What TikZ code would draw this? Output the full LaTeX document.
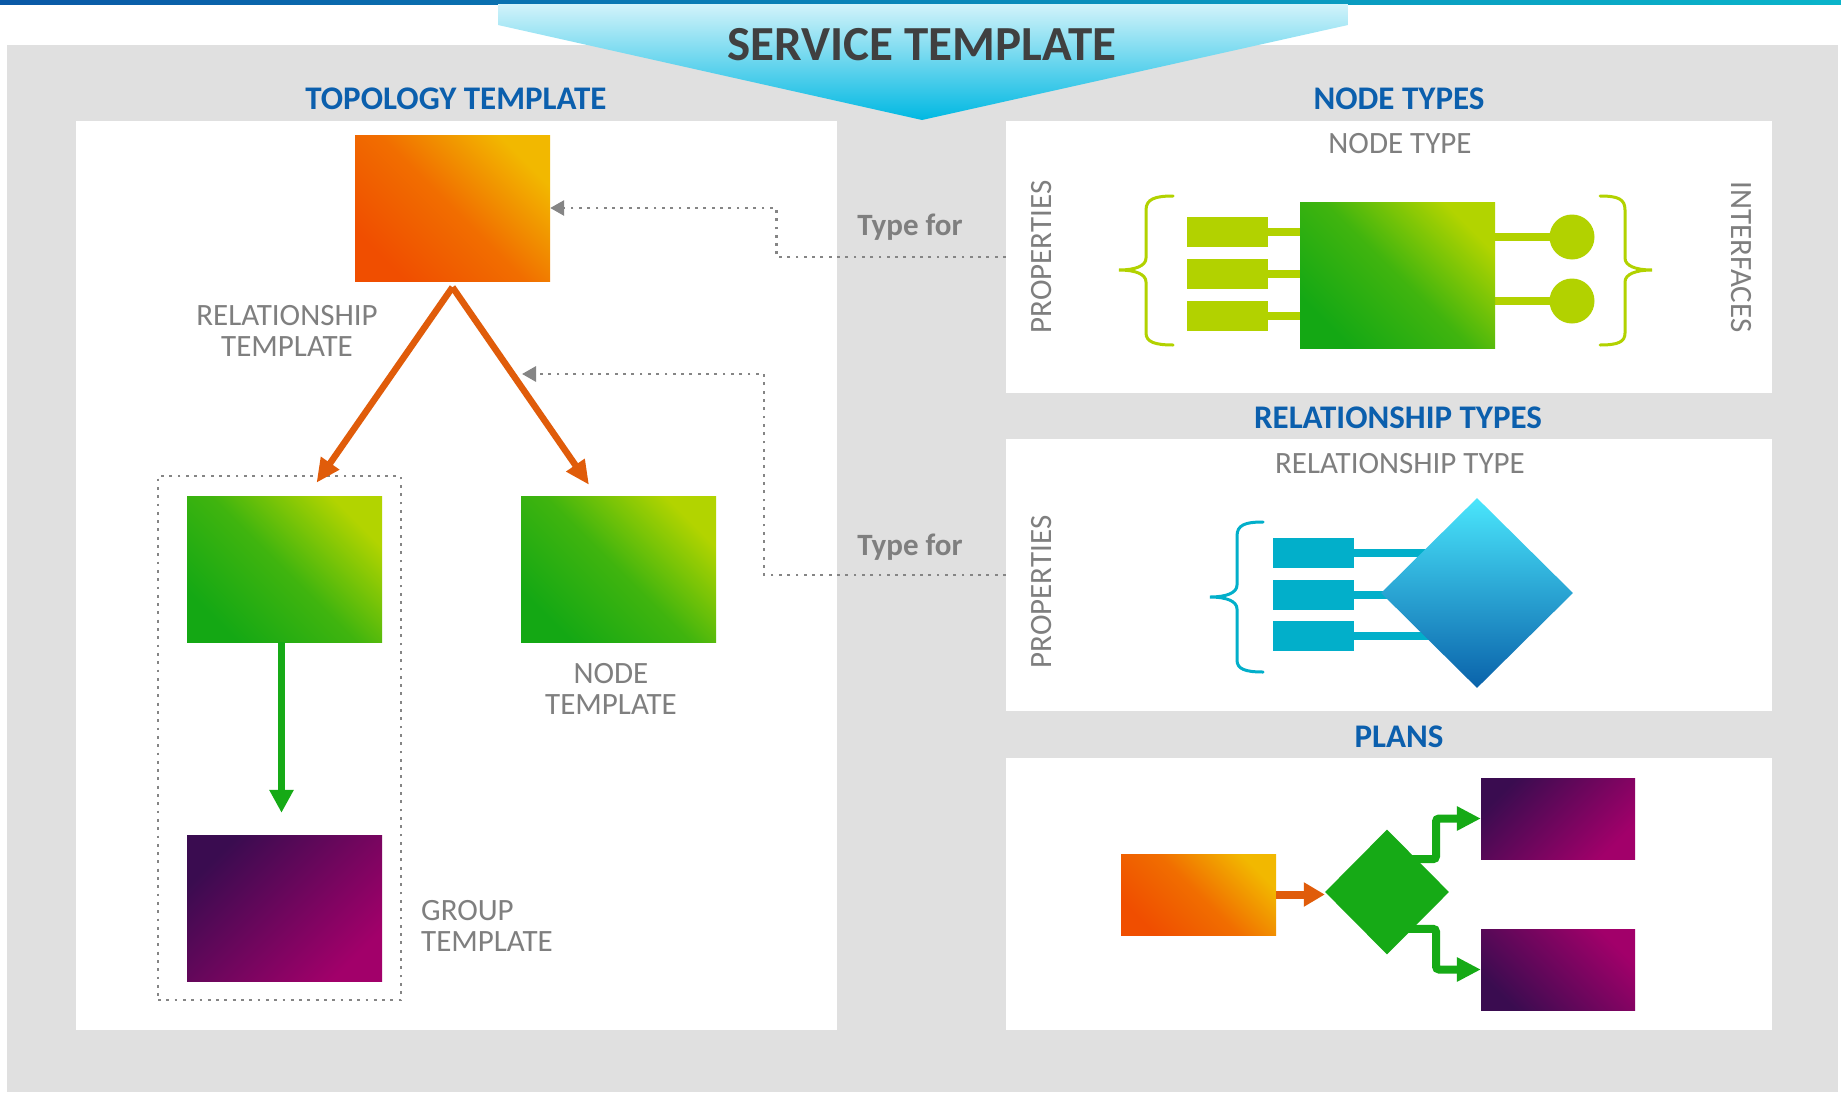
\documentclass[tikz,border=0pt]{standalone}
\usepackage{fontspec}
\setmainfont{Carlito}
\usetikzlibrary{arrows.meta,calc,shapes.geometric}

\definecolor{bggray}{HTML}{E0E0E0}
\definecolor{barblueA}{HTML}{0A58A6}
\definecolor{barblueB}{HTML}{0AB4CA}
\definecolor{funnelA}{HTML}{D2F3FA}
\definecolor{funnelB}{HTML}{00B8E2}
\definecolor{titleblue}{HTML}{0B5FAD}
\definecolor{labelgray}{HTML}{7F7F7F}
\definecolor{darktext}{HTML}{404040}
\definecolor{dotgray}{HTML}{858585}
\definecolor{orangeA}{HTML}{F04E00}
\definecolor{orangeB}{HTML}{F2B800}
\definecolor{greenA}{HTML}{14A814}
\definecolor{greenB}{HTML}{B2D400}
\definecolor{purpleA}{HTML}{3A0C50}
\definecolor{purpleB}{HTML}{A2006A}
\definecolor{lime}{HTML}{B2D200}
\definecolor{cyanbar}{HTML}{02AFCA}
\definecolor{diaA}{HTML}{4AE6FC}
\definecolor{diaB}{HTML}{0A62AA}
\definecolor{arroworange}{HTML}{E05C0A}
\definecolor{arrowgreen}{HTML}{16AA16}

\pgfdeclarelayer{back}
\pgfdeclarelayer{bars}
\pgfsetlayers{back,bars,main}

\begin{document}
\begin{tikzpicture}[x=1pt, y=-1pt,
  panel/.style={rectangle, fill=white, inner sep=0pt},
  tile/.style={rectangle, inner sep=0pt, minimum width=195pt, minimum height=146pt},
  orangefill/.style={bottom color=orangeA, top color=orangeB, middle color=orangeA!70!orangeB, shading angle=-45},
  greenfill/.style={bottom color=greenA, top color=greenB, middle color=greenA!72!greenB, shading angle=-45},
  purplefill/.style={top color=purpleA, bottom color=purpleB, shading angle=45},
  purplefillup/.style={bottom color=purpleA, top color=purpleB, shading angle=-45},
  sectitle/.style={anchor=base, text=titleblue, font=\bfseries\fontsize{33}{33}\selectfont, inner sep=0pt},
  lbl/.style={text=labelgray, font=\fontsize{31}{31}\selectfont, inner sep=0pt},
  typelbl/.style={anchor=base, text=labelgray, font=\bfseries\fontsize{31}{31}\selectfont, inner sep=0pt},
  dotline/.style={draw=dotgray, line width=2.8pt, dash pattern=on 2.8pt off 5.5pt},
  typefor/.style={dotline, -{Triangle[length=14pt,width=15pt]}, dotgray},
  relarrow/.style={draw=arroworange, line width=6.5pt, -{Triangle[length=24pt,width=21pt]}},
  grparrow/.style={draw=arrowgreen, line width=7pt, -{Triangle[length=23pt,width=23pt]}},
  planorange/.style={draw=arroworange, line width=8pt, -{Triangle[length=21pt,width=23pt]}},
  plangreen/.style={draw=arrowgreen, line width=8pt, rounded corners=3pt, -{Triangle[length=24pt,width=23pt]}},
  propbox/.style={rectangle, inner sep=0pt, minimum width=81pt, minimum height=30pt},
  limebar/.style={draw=lime, line width=8pt},
  cyanline/.style={draw=cyanbar, line width=8pt},
  bracepath/.style={line width=3pt, line cap=round}
]
\useasboundingbox (0,0) rectangle (1841,1092);

% ---------- backdrop ----------
\begin{pgfonlayer}{back}
  \shade[left color=barblueA, right color=barblueB] (0,0) rectangle (1841,4);
  \fill[bggray] (7,45) rectangle (1838,1092);
  \node[panel, minimum width=761pt, minimum height=909pt] (lp) at (456.5,575.5) {};
  \node[panel, minimum width=766pt, minimum height=272pt] (ntp) at (1389,257) {};
  \node[panel, minimum width=766pt, minimum height=272pt] (rtp) at (1389,575) {};
  \node[panel, minimum width=766pt, minimum height=272pt] (plp) at (1389,894) {};
\end{pgfonlayer}

% funnel banner with the main heading
\shade[top color=funnelA, bottom color=funnelB]
  (498,4) -- (1348,4) -- (1348,25) -- (922,120) -- (498,25) -- cycle;
\node[anchor=base, text=darktext, font=\bfseries\fontsize{49}{49}\selectfont, inner sep=0pt]
  (svc) at (922,60) {SERVICE TEMPLATE};

% section headings
\node[sectitle] (tt)  at (456,109)  {TOPOLOGY TEMPLATE};
\node[sectitle] (nty) at (1399,109) {NODE TYPES};
\node[sectitle] (rty) at (1398,428) {RELATIONSHIP TYPES};
\node[sectitle] (pls) at (1399,747) {PLANS};

% ---------- topology template ----------
\node[dotline, rectangle, inner sep=0pt, minimum width=243pt, minimum height=524pt] (grp) at (279.5,738) {};
\node[tile, orangefill] (rt) at (452.5,208) {};
\node[tile, greenfill]  (g1) at (284.5,569) {};
\node[tile, greenfill]  (g2) at (618.5,569) {};
\node[tile, purplefill] (pg) at (284.5,908) {};

\draw[relarrow] ([yshift=-6pt]rt.south) -- ([xshift=32pt,yshift=13pt]g1.north);
\draw[relarrow] ([yshift=-6pt]rt.south) -- ([xshift=-29.5pt,yshift=11pt]g2.north);
\draw[grparrow] ([xshift=-3pt]g1.south) -- ([xshift=-3pt,yshift=22pt]pg.north);

\node[lbl, align=center] (rtl) at (287,330.5) {RELATIONSHIP\\TEMPLATE};
\node[lbl, align=center] (ntl2) at (611,688.5) {NODE\\TEMPLATE};
\node[lbl, align=left, anchor=west] (gtl) at (421,926) {GROUP\\TEMPLATE};

% "Type for" links from the type panels
\coordinate (relpt) at (522,374);
\draw[typefor] (ntp.west) -| ($(rt.east)+(226,0)$) -- (rt.east);
\draw[typefor] (rtp.west) -| ($(relpt)+(242,0)$) -- (relpt);
\node[typelbl] (tf1) at (910,235) {Type for};
\node[typelbl] (tf2) at (910,555) {Type for};

% ---------- node types ----------
\node[lbl, anchor=base] (ntt) at (1400,153) {NODE TYPE};
\node[lbl, rotate=90]  (prop1) at (1042,257) {PROPERTIES};
\node[lbl, rotate=-90] (intf)  at (1741,257) {INTERFACES};

\node[tile, greenfill] (nt) at (1397.5,275) {};
\foreach \i/\yy in {1/232,2/274,3/316} {
  \node[propbox, fill=lime] (np\i) at (1227.5,\yy) {};
  \begin{pgfonlayer}{bars}
    \draw[limebar] (np\i.east) -- (np\i.east -| nt.west);
  \end{pgfonlayer}
}
\foreach \i/\yy in {1/237,2/301} {
  \node[circle, fill=lime, inner sep=0pt, minimum size=45pt] (if\i) at (1572,\yy) {};
  \begin{pgfonlayer}{bars}
    \draw[limebar] (nt.east |- if\i.center) -- (if\i.center);
  \end{pgfonlayer}
}
\draw[lime, bracepath] (1173,196) .. controls (1155,196) and (1146,199) .. (1146,210)
  -- (1146,258) .. controls (1146,266) and (1135,270) .. (1119,270)
  .. controls (1135,270) and (1146,274) .. (1146,282)
  -- (1146,333) .. controls (1146,342) and (1155,345) .. (1173,345);
\draw[lime, bracepath] (1600,196) .. controls (1618,196) and (1625,199) .. (1625,210)
  -- (1625,258) .. controls (1625,266) and (1636,270) .. (1652,270)
  .. controls (1636,270) and (1625,274) .. (1625,282)
  -- (1625,333) .. controls (1625,342) and (1618,345) .. (1600,345);

% ---------- relationship types ----------
\node[lbl, anchor=base] (rtt) at (1400,473) {RELATIONSHIP TYPE};
\node[lbl, rotate=90] (prop2) at (1042,592) {PROPERTIES};
\node[diamond, inner sep=0pt, minimum width=192pt, minimum height=190pt,
      top color=diaA, bottom color=diaB] (rd) at (1477,593) {};
\foreach \i/\yy in {1/553,2/595,3/636} {
  \node[propbox, fill=cyanbar] (rp\i) at (1313.5,\yy) {};
  \begin{pgfonlayer}{bars}
    \draw[cyanline] (rp\i.east) -- (rp\i.east -| rd.center);
  \end{pgfonlayer}
}
\draw[cyanbar, bracepath] (1263,522) .. controls (1245,522) and (1237,525) .. (1237,536)
  -- (1237,585) .. controls (1237,593) and (1226,597) .. (1210,597)
  .. controls (1226,597) and (1237,601) .. (1237,609)
  -- (1237,660) .. controls (1237,669) and (1245,672) .. (1263,672);

% ---------- plans ----------
\node[rectangle, inner sep=0pt, minimum width=155pt, minimum height=81pt, orangefill] (po) at (1198.5,894.5) {};
\node[diamond, fill=arrowgreen, inner sep=0pt, minimum width=124pt, minimum height=125pt] (pd) at (1387,892) {};
\node[rectangle, inner sep=0pt, minimum width=154pt, minimum height=81pt, purplefill] (pp1) at (1558,818.5) {};
\node[rectangle, inner sep=0pt, minimum width=154pt, minimum height=81pt, purplefillup] (pp2) at (1558,969.5) {};
\draw[planorange] (po.east) -- (po.east -| pd.west);
\begin{pgfonlayer}{bars}
  \draw[plangreen] (pd.center |- pp1.south) -- ++(49,0) |- (pp1.west);
  \draw[plangreen] (pd.center |- pp2.north) -- ++(49,0) |- (pp2.west);
\end{pgfonlayer}
\end{tikzpicture}
\end{document}
